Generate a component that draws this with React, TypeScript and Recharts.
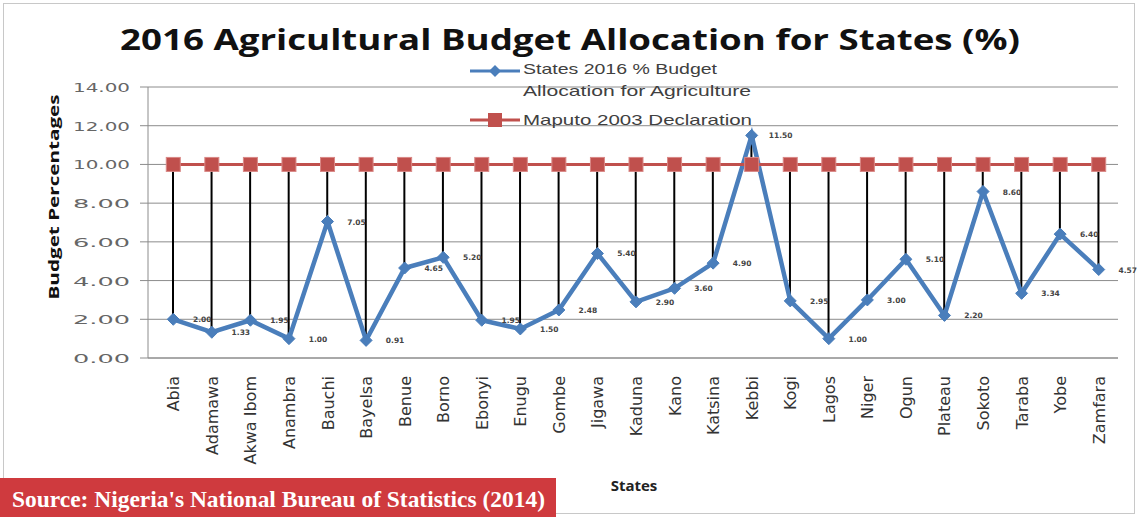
import React from "react";
import {
  Bar,
  CartesianGrid,
  ComposedChart,
  Line,
  XAxis,
  YAxis
} from "recharts";

const states = [
  "Abia", "Adamawa", "Akwa Ibom", "Anambra", "Bauchi", "Bayelsa", "Benue",
  "Borno", "Ebonyi", "Enugu", "Gombe", "Jigawa", "Kaduna", "Kano", "Katsina",
  "Kebbi", "Kogi", "Lagos", "Niger", "Ogun", "Plateau", "Sokoto", "Taraba",
  "Yobe", "Zamfara"
];

const allocation = [
  2.0, 1.33, 1.95, 1.0, 7.05, 0.91, 4.65, 5.2, 1.95, 1.5, 2.48, 5.4, 2.9,
  3.6, 4.9, 11.5, 2.95, 1.0, 3.0, 5.1, 2.2, 8.6, 3.34, 6.4, 4.57
];

const maputo = [
  10, 10, 10, 10, 10, 10, 10, 10, 10, 10, 10, 10, 10, 10, 10, 10, 10, 10, 10,
  10, 10, 10, 10, 10, 10
];

const yTicks = [0, 2, 4, 6, 8, 10, 12, 14];

const data = states.map((state, i) => ({
  state,
  allocation: allocation[i],
  maputo: maputo[i],
  gap: [Math.min(allocation[i], maputo[i]), Math.max(allocation[i], maputo[i])]
}));

const BLUE = "#4a7ebb";
const RED = "#c0504d";

function StateTick({ x, y, payload }: any) {
  return (
    <text
      transform={`translate(${x + 6},${y + 10}) rotate(-90)`}
      textAnchor="end"
      fontFamily="DejaVu Sans"
      fontSize={16}
      fill="#333"
    >
      {payload.value}
    </text>
  );
}

function PercentTick({ x, y, payload }: any) {
  return (
    <text
      x={x - 57}
      y={y + 5}
      fontFamily="DejaVu Sans"
      fontSize={13}
      fill="#666"
      textLength={57}
      lengthAdjust="spacingAndGlyphs"
    >
      {Number(payload.value).toFixed(2)}
    </text>
  );
}

function Diamond({ cx, cy }: any) {
  if (cx == null || cy == null) return null;
  const r = 6;
  return (
    <path
      d={`M${cx},${cy - r} L${cx + r},${cy} L${cx},${cy + r} L${cx - r},${cy} Z`}
      fill={BLUE}
      stroke={BLUE}
    />
  );
}

function Square({ cx, cy }: any) {
  if (cx == null || cy == null) return null;
  return (
    <rect
      x={cx - 7}
      y={cy - 7}
      width={14}
      height={14}
      fill={RED}
      stroke="#d98886"
      strokeWidth={1}
    />
  );
}

function ValueLabel({ x, y, value }: any) {
  return (
    <text
      x={x + 29}
      y={y + 3}
      textAnchor="middle"
      fontFamily="DejaVu Sans"
      fontSize={7.5}
      fontWeight="bold"
      fill="#444"
    >
      {Number(value).toFixed(2)}
    </text>
  );
}

function ChartLegend({ x, y }: { x: number; y: number }) {
  const textStyle: React.CSSProperties = {
    fontFamily: "Liberation Sans",
    fontSize: 15,
    fill: "#404040"
  };
  return (
    <g transform={`translate(${x},${y})`}>
      <line x1={0} y1={14} x2={50} y2={14} stroke={BLUE} strokeWidth={3} />
      <path d="M25,8 L31,14 L25,20 L19,14 Z" fill={BLUE} />
      <text x={53} y={17} style={textStyle} textLength={194} lengthAdjust="spacingAndGlyphs">
        States 2016 % Budget
      </text>
      <text x={53} y={39} style={textStyle} textLength={228} lengthAdjust="spacingAndGlyphs">
        Allocation for Agriculture
      </text>
      <line x1={0} y1={63} x2={50} y2={63} stroke={RED} strokeWidth={3} />
      <rect x={18} y={56} width={14} height={14} fill={RED} />
      <text x={53} y={68} style={textStyle} textLength={229} lengthAdjust="spacingAndGlyphs">
        Maputo 2003 Declaration
      </text>
    </g>
  );
}

export default function App() {
  return (
    <div
      style={{
        position: "absolute",
        left: 0,
        top: 0,
        width: 1138,
        height: 517,
        background: "#fff",
        overflow: "hidden"
      }}
    >
      <div
        style={{
          position: "absolute",
          left: 3,
          top: 3,
          width: 1130,
          height: 509,
          border: "1px solid #c8c8c8"
        }}
      />
      <div style={{ position: "absolute", left: 0, top: 0 }}>
        <ComposedChart
          width={1138}
          height={517}
          data={data}
          margin={{ top: 87, right: 20, bottom: 0, left: 0 }}
        >
          <CartesianGrid vertical={false} stroke="#8c8c8c" strokeWidth={1} />
          <XAxis
            dataKey="state"
            interval={0}
            height={159}
            padding={{ left: 6, right: 0 }}
            tick={<StateTick />}
            tickLine={false}
            axisLine={{ stroke: "#8c8c8c" }}
          />
          <YAxis
            width={148}
            domain={[0, 14]}
            ticks={yTicks}
            tick={<PercentTick />}
            tickSize={8}
            tickMargin={10}
            axisLine={{ stroke: "#8c8c8c" }}
            tickLine={{ stroke: "#8c8c8c" }}
          />
          <Bar
            dataKey="gap"
            barSize={2}
            fill="#000"
            isAnimationActive={false}
            legendType="none"
          />
          <Line
            dataKey="allocation"
            stroke={BLUE}
            strokeWidth={4.5}
            dot={<Diamond />}
            activeDot={false}
            label={<ValueLabel />}
            isAnimationActive={false}
          />
          <Line
            dataKey="maputo"
            stroke={RED}
            strokeWidth={3}
            dot={<Square />}
            activeDot={false}
            isAnimationActive={false}
          />
        </ComposedChart>
      </div>
      <svg
        width={1138}
        height={517}
        style={{ position: "absolute", left: 0, top: 0, pointerEvents: "none" }}
      >
        <text
          x={570}
          y={50}
          textAnchor="middle"
          fontFamily="Open Sans"
          fontWeight="bold"
          fontSize={29}
          fill="#111"
          textLength={900}
          lengthAdjust="spacingAndGlyphs"
        >
          2016 Agricultural Budget Allocation for States (%)
        </text>
        <ChartLegend x={470} y={57} />
        <text
          transform="translate(59,197) rotate(-90)"
          textAnchor="middle"
          fontFamily="Open Sans"
          fontWeight="bold"
          fontSize={14}
          fill="#111"
          textLength={205}
          lengthAdjust="spacingAndGlyphs"
        >
          Budget Percentages
        </text>
        <text
          x={634}
          y={491}
          textAnchor="middle"
          fontFamily="Open Sans"
          fontWeight="bold"
          fontSize={15}
          fill="#222"
        >
          States
        </text>
      </svg>
      <div
        style={{
          position: "absolute",
          left: 0,
          top: 478,
          width: 556,
          height: 39,
          background: "#cf3a3e"
        }}
      >
        <svg width={556} height={39}>
          <text
            x={12}
            y={29}
            fontFamily="Liberation Serif"
            fontWeight="bold"
            fontSize={23}
            fill="#fff"
            textLength={533}
            lengthAdjust="spacingAndGlyphs"
          >
            Source: Nigeria's National Bureau of Statistics (2014)
          </text>
        </svg>
      </div>
    </div>
  );
}
